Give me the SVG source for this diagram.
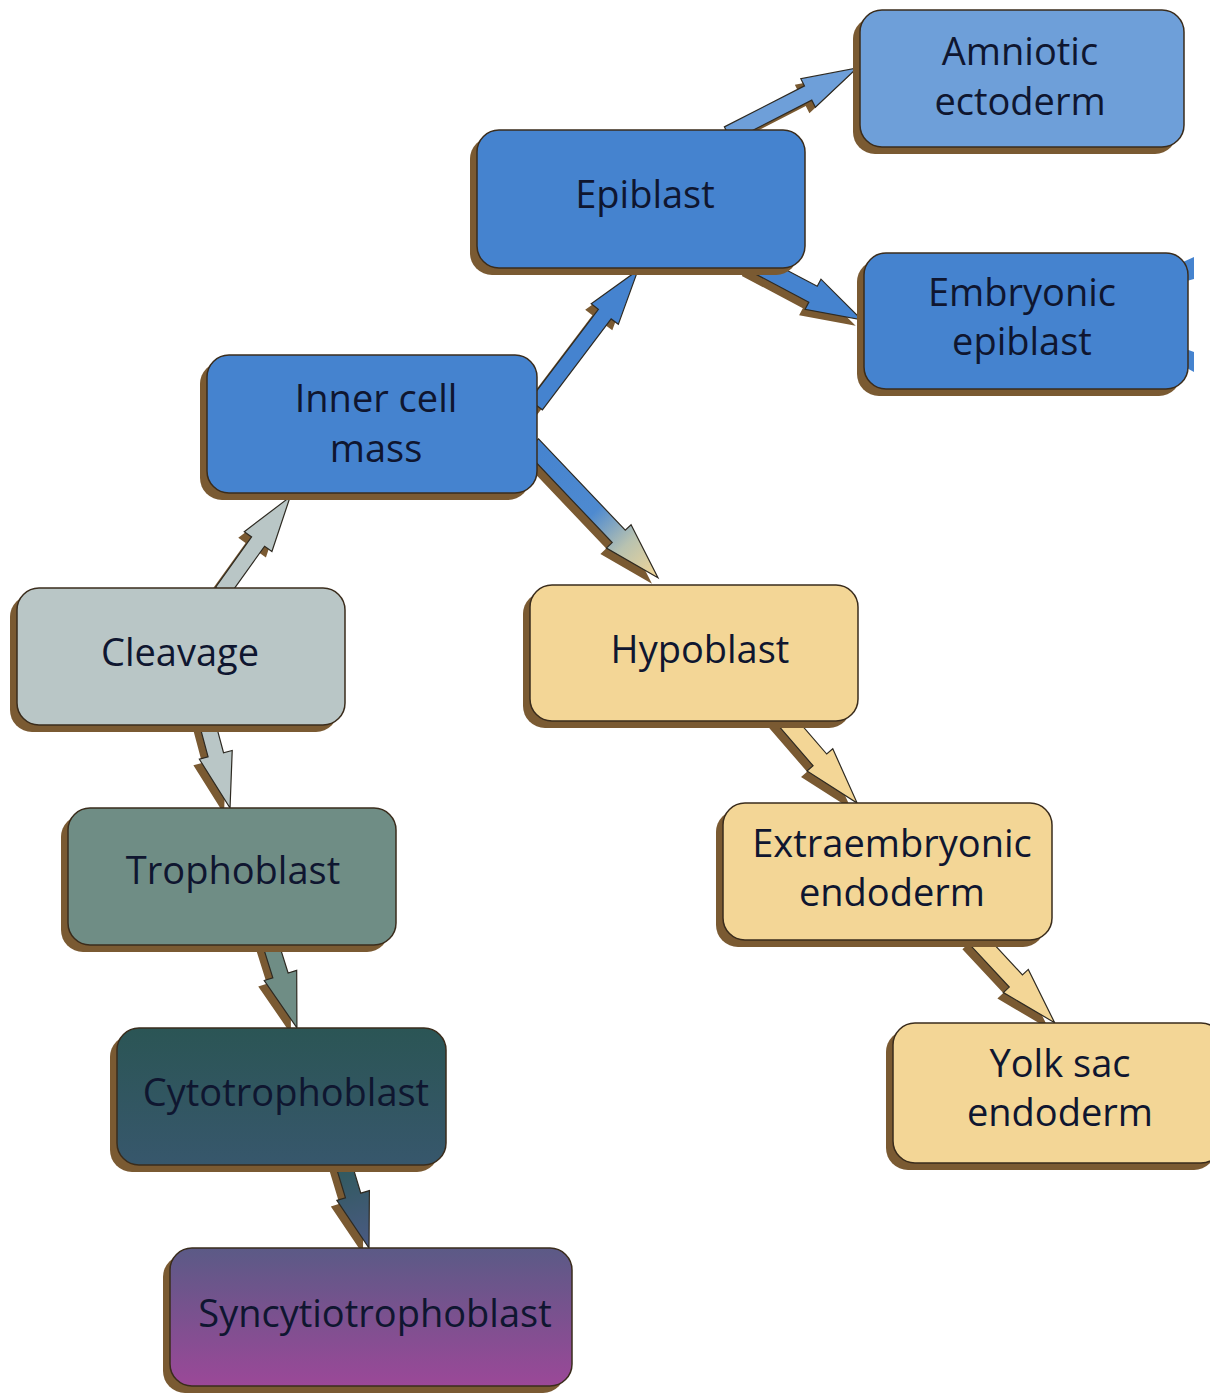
<svg xmlns="http://www.w3.org/2000/svg" width="1210" height="1393" viewBox="0 0 1210 1393">
<defs>
<style>
.sh{fill:#7a5a32}
.face{stroke:#3a2c1c;stroke-width:1.5}
.ash{fill:#7a5a32}
.arr{stroke:#2e2a22;stroke-width:1.2;stroke-linejoin:miter}
.t{font-family:"Open Sans","Noto Sans","Liberation Sans",sans-serif;font-size:38px;fill:#0f1630;text-anchor:middle}
.blue{fill:#4583cf}
.lblue{fill:#6e9fd9}
.grey{fill:#b9c6c6}
.sage{fill:#6f8d85}
.yel{fill:#f3d696}
</style>
<linearGradient id="gCyto" x1="0" y1="0" x2="0" y2="1">
<stop offset="0" stop-color="#2b5555"/>
<stop offset="1" stop-color="#37576c"/>
</linearGradient>
<linearGradient id="gSyn" x1="0" y1="0" x2="0" y2="1">
<stop offset="0" stop-color="#5b5a86"/>
<stop offset="1" stop-color="#9b4898"/>
</linearGradient>
<linearGradient id="aICMHyp" x1="0" y1="0" x2="1" y2="0">
<stop offset="0" stop-color="#4583cf"/>
<stop offset="0.5" stop-color="#4e8ad0"/>
<stop offset="0.75" stop-color="#b8c2b0"/>
<stop offset="1" stop-color="#f3d696"/>
</linearGradient>
<linearGradient id="aCytoSyn" x1="0" y1="0" x2="1" y2="0">
<stop offset="0" stop-color="#2f5a5c"/>
<stop offset="1" stop-color="#4b5a84"/>
</linearGradient>
</defs>
<rect width="1210" height="1393" fill="#ffffff"/>

<g id="connectors">
<g class="ash">
<path transform="translate(216,598) rotate(-54.4)" d="M0,-8 H62 V-17 L117,0 L62,17 V8 H0 Z"/>
<path transform="translate(530,411) rotate(-52.9)" d="M0,-8 H114 V-17 L169,0 L114,17 V8 H0 Z"/>
<path transform="translate(722,140) rotate(-27.1)" d="M0,-8 H90 V-16 L145,0 L90,16 V8 H0 Z"/>
<path transform="translate(746,268) rotate(27.8)" d="M0,-9 H69 V-17 L124,0 L69,17 V9 H0 Z"/>
<path transform="translate(526,451) rotate(46.5)" d="M0,-9 H126 V-17 L183,0 L126,17 V9 H0 Z"/>
<path transform="translate(201,728) rotate(75)" d="M0,-8 H34 V-17 L89,0 L34,17 V8 H0 Z"/>
<path transform="translate(264,948) rotate(72.6)" d="M0,-8 H35 V-17 L90,0 L35,17 V8 H0 Z"/>
<path transform="translate(337,1168) rotate(73.2)" d="M0,-8 H35 V-17 L90,0 L35,17 V8 H0 Z"/>
<path transform="translate(776,722) rotate(49.2)" d="M0,-9 H58 V-17 L115,0 L58,17 V9 H0 Z"/>
<path transform="translate(969,943) rotate(47.1)" d="M0,-9 H60 V-17 L117,0 L60,17 V9 H0 Z"/>
</g>
<path id="c-cleavage-icm" class="arr grey" transform="translate(222,592) rotate(-54.4)" d="M0,-8 H62 V-17 L117,0 L62,17 V8 H0 Z"/>
<path id="c-icm-epiblast" class="arr blue" transform="translate(536,405) rotate(-52.9)" d="M0,-8 H114 V-17 L169,0 L114,17 V8 H0 Z"/>
<path id="c-epiblast-amniotic" class="arr lblue" transform="translate(728,134) rotate(-27.1)" d="M0,-8 H90 V-16 L145,0 L90,16 V8 H0 Z"/>
<path id="c-epiblast-embryonic" class="arr blue" transform="translate(752,262) rotate(27.8)" d="M0,-9 H69 V-17 L124,0 L69,17 V9 H0 Z"/>
<path id="c-icm-hypoblast" class="arr" fill="url(#aICMHyp)" transform="translate(532,445) rotate(46.5)" d="M0,-9 H126 V-17 L183,0 L126,17 V9 H0 Z"/>
<path id="c-cleavage-troph" class="arr grey" transform="translate(207,722) rotate(75)" d="M0,-8 H34 V-17 L89,0 L34,17 V8 H0 Z"/>
<path id="c-troph-cyto" class="arr sage" transform="translate(270,942) rotate(72.6)" d="M0,-8 H35 V-17 L90,0 L35,17 V8 H0 Z"/>
<path id="c-cyto-syn" class="arr" fill="url(#aCytoSyn)" transform="translate(343,1162) rotate(73.2)" d="M0,-8 H35 V-17 L90,0 L35,17 V8 H0 Z"/>
<path id="c-hyp-extra" class="arr yel" transform="translate(782,716) rotate(49.2)" d="M0,-9 H58 V-17 L115,0 L58,17 V9 H0 Z"/>
<path id="c-extra-yolk" class="arr yel" transform="translate(975,937) rotate(47.1)" d="M0,-9 H60 V-17 L117,0 L60,17 V9 H0 Z"/>
<polygon class="blue" points="1183,262 1194,257 1194,279 1183,282"/>
<polygon class="blue" points="1183,348 1194,352 1194,372 1183,366"/>
</g>

<g id="amniotic-ectoderm">
<rect class="sh" x="853" y="17" width="324" height="137" rx="22"/>
<rect class="face lblue" x="860" y="10" width="324" height="137" rx="22"/>
<text class="t" x="1020" y="65">Amniotic</text>
<text class="t" x="1020" y="115">ectoderm</text>
</g>

<g id="epiblast">
<rect class="sh" x="470" y="137" width="328" height="138" rx="22"/>
<rect class="face blue" x="477" y="130" width="328" height="138" rx="22"/>
<text class="t" x="645" y="208">Epiblast</text>
</g>

<g id="embryonic-epiblast">
<rect class="sh" x="857" y="260" width="324" height="136" rx="22"/>
<rect class="face blue" x="864" y="253" width="324" height="136" rx="22"/>
<text class="t" x="1022" y="306">Embryonic</text>
<text class="t" x="1022" y="355">epiblast</text>
</g>

<g id="inner-cell-mass">
<rect class="sh" x="200" y="362" width="330" height="138" rx="22"/>
<rect class="face blue" x="207" y="355" width="330" height="138" rx="22"/>
<text class="t" x="376" y="412">Inner cell</text>
<text class="t" x="376" y="462">mass</text>
</g>

<g id="cleavage">
<rect class="sh" x="10" y="595" width="328" height="137" rx="22"/>
<rect class="face grey" x="17" y="588" width="328" height="137" rx="22"/>
<text class="t" x="180" y="666">Cleavage</text>
</g>

<g id="hypoblast">
<rect class="sh" x="523" y="592" width="328" height="136" rx="22"/>
<rect class="face yel" x="530" y="585" width="328" height="136" rx="22"/>
<text class="t" x="700" y="663">Hypoblast</text>
</g>

<g id="trophoblast">
<rect class="sh" x="61" y="815" width="328" height="137" rx="22"/>
<rect class="face sage" x="68" y="808" width="328" height="137" rx="22"/>
<text class="t" x="233" y="884">Trophoblast</text>
</g>

<g id="extraembryonic-endoderm">
<rect class="sh" x="716" y="810" width="329" height="137" rx="22"/>
<rect class="face yel" x="723" y="803" width="329" height="137" rx="22"/>
<text class="t" x="892" y="857">Extraembryonic</text>
<text class="t" x="892" y="906">endoderm</text>
</g>

<g id="cytotrophoblast">
<rect class="sh" x="110" y="1035" width="329" height="137" rx="22"/>
<rect class="face" fill="url(#gCyto)" x="117" y="1028" width="329" height="137" rx="22"/>
<text class="t" x="286" y="1106">Cytotrophoblast</text>
</g>

<g id="yolk-sac-endoderm">
<rect class="sh" x="886" y="1030" width="330" height="140" rx="22"/>
<rect class="face yel" x="893" y="1023" width="330" height="140" rx="22"/>
<text class="t" x="1060" y="1077">Yolk sac</text>
<text class="t" x="1060" y="1126">endoderm</text>
</g>

<g id="syncytiotrophoblast">
<rect class="sh" x="163" y="1255" width="402" height="138" rx="22"/>
<rect class="face" fill="url(#gSyn)" x="170" y="1248" width="402" height="138" rx="22"/>
<text class="t" x="375" y="1327">Syncytiotrophoblast</text>
</g>
</svg>
